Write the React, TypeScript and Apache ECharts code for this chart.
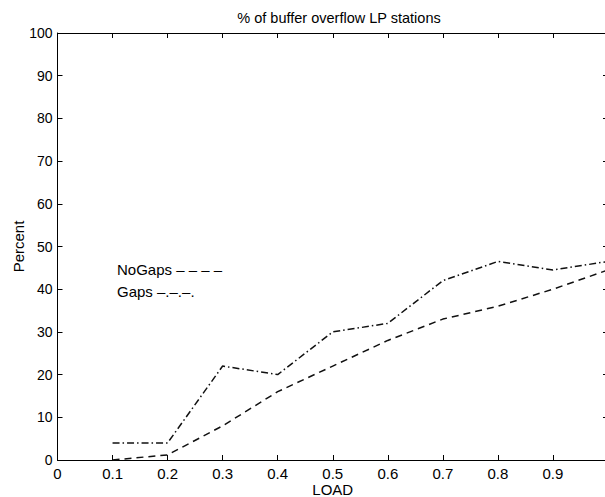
import React, { useEffect, useRef } from "react";
import * as echarts from "echarts";

const loads = [0.1, 0.2, 0.3, 0.4, 0.5, 0.6, 0.7, 0.8, 0.9, 1.0];
const noGaps = [0, 1.2, 8, 16, 22, 28, 33, 36, 40, 44.5];
const gaps = [4, 4, 22, 20, 30, 32, 42, 46.5, 44.5, 46.5];
const titleText = "% of buffer overflow LP stations";
const noGapsLabel = "NoGaps – – – –";
const gapsLabel = "Gaps –.–.–.";

const FONT = "'Liberation Sans', Arial, Helvetica, sans-serif";

export default function App() {
  const ref = useRef<HTMLDivElement>(null);
  useEffect(() => {
    if (!ref.current) return;
    const chart = echarts.init(ref.current, null, { renderer: "svg" });
    const fmtX = (v: number) => {
      const r = Math.round(v * 10) / 10;
      if (r >= 1) return "";
      return r === 0 ? "0" : r.toFixed(1);
    };
    const mkLine = () => ({ show: true, onZero: false, lineStyle: { color: "#000", width: 1 } });
    const mkTick = () => ({ show: true, inside: true, length: 5, lineStyle: { color: "#000", width: 1 } });
    chart.setOption({
      animation: false,
      backgroundColor: "#fff",
      title: {
        text: titleText,
        left: 334,
        top: 5,
        textAlign: "center",
        textStyle: { fontFamily: FONT, fontSize: 14.5, fontWeight: "normal", color: "#000" },
      },
      grid: { left: 57.5, right: -3, top: 33, bottom: 37, outerBoundsMode: "none", containLabel: false },
      xAxis: [
        {
          type: "value",
          min: 0,
          max: 1,
          interval: 0.1,
          position: "bottom",
          name: "LOAD",
          nameLocation: "middle",
          nameGap: 22,
          nameMoveOverlap: false,
          nameTextStyle: { fontFamily: FONT, fontSize: 15, color: "#000" },
          axisLine: mkLine(),
          axisTick: mkTick(),
          splitLine: { show: false },
          axisLabel: { fontFamily: FONT, fontSize: 15, color: "#000", margin: 6, formatter: fmtX, showMaxLabel: false },
        },
        {
          type: "value",
          min: 0,
          max: 1,
          interval: 0.1,
          position: "top",
          axisLine: mkLine(),
          axisTick: mkTick(),
          splitLine: { show: false },
          axisLabel: { show: false },
        },
      ],
      yAxis: [
        {
          type: "value",
          min: 0,
          max: 100,
          interval: 10,
          position: "left",
          name: "Percent",
          nameLocation: "middle",
          nameGap: 32,
          nameMoveOverlap: false,
          nameTextStyle: { fontFamily: FONT, fontSize: 15, color: "#000" },
          axisLine: mkLine(),
          axisTick: mkTick(),
          splitLine: { show: false },
          axisLabel: { fontFamily: FONT, fontSize: 14, color: "#000", margin: 5 },
        },
        {
          type: "value",
          min: 0,
          max: 100,
          interval: 10,
          position: "right",
          axisLine: mkLine(),
          axisTick: mkTick(),
          splitLine: { show: false },
          axisLabel: { show: false },
        },
      ],
      graphic: [
        {
          type: "text",
          x: 117,
          y: 269,
          style: { text: noGapsLabel, font: `15px ${FONT}`, fill: "#000", verticalAlign: "middle" },
        },
        {
          type: "text",
          x: 117,
          y: 291,
          style: { text: gapsLabel, font: `15px ${FONT}`, fill: "#000", verticalAlign: "middle" },
        },
      ],
      series: [
        {
          name: "NoGaps",
          type: "line",
          xAxisIndex: 0,
          yAxisIndex: 0,
          symbol: "none",
          data: loads.map((x, i) => [x, noGaps[i]]),
          lineStyle: { color: "#111", width: 1.5, type: [7, 5] },
        },
        {
          name: "Gaps",
          type: "line",
          xAxisIndex: 0,
          yAxisIndex: 0,
          symbol: "none",
          data: loads.map((x, i) => [x, gaps[i]]),
          lineStyle: { color: "#111", width: 1.5, type: [7, 3, 1.5, 3] },
        },
      ],
    });
    return () => chart.dispose();
  }, []);
  return (
    <div
      ref={ref}
      style={{ position: "fixed", left: 0, top: 0, width: 605, height: 497, background: "#fff" }}
    />
  );
}
